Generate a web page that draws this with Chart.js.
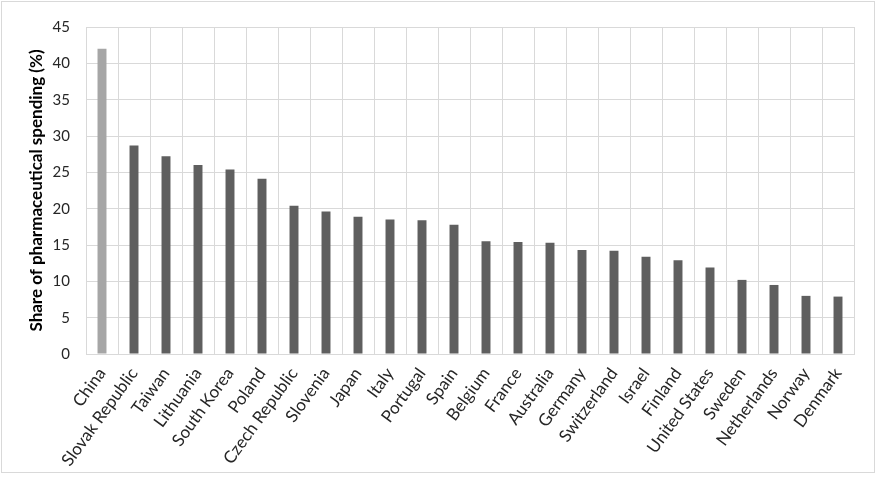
<!DOCTYPE html>
<html>
<head>
<meta charset="utf-8">
<script src="https://cdn.jsdelivr.net/npm/chart.js@4/dist/chart.umd.min.js"></script>
<style>
  html, body { margin: 0; padding: 0; background: #fff; }
  #wrap {
    position: absolute; left: 1px; top: 1px;
    width: 872px; height: 470px;
    border: 1px solid #d9d9d9;
  }
  canvas { display: block; }
</style>
</head>
<body>
<div id="wrap"><canvas id="chart" width="872" height="470"></canvas></div>
<script>
const countries = [
    "China", "Slovak Republic", "Taiwan", "Lithuania", "South Korea", "Poland",
    "Czech Republic", "Slovenia", "Japan", "Italy", "Portugal", "Spain",
    "Belgium", "France", "Australia", "Germany", "Switzerland", "Israel",
    "Finland", "United States", "Sweden", "Netherlands", "Norway", "Denmark"
];
const shares = [
    42.0, 28.7, 27.2, 26.0, 25.4, 24.1,
    20.4, 19.6, 18.9, 18.5, 18.4, 17.8,
    15.5, 15.4, 15.3, 14.3, 14.2, 13.4,
    12.9, 11.9, 10.2, 9.5, 8.0, 7.9
];
const yTitle = "Share of pharmaceutical spending (%)";

const barColors = countries.map((c, i) => i === 0 ? "#a6a6a6" : "#5f5f5f");

const ctx = document.getElementById("chart").getContext("2d");

new Chart(ctx, {
    type: "bar",
    data: {
        labels: countries,
        datasets: [{
            data: shares,
            backgroundColor: barColors,
            barPercentage: 0.28,
            categoryPercentage: 1.0
        }]
    },
    options: {
        responsive: false,
        animation: false,
        layout: { padding: { top: 23, right: 20, left: 24, bottom: 0 } },
        plugins: {
            legend: { display: false },
            tooltip: { enabled: false }
        },
        scales: {
            x: {
                grid: { color: "#d9d9d9", drawTicks: false },
                border: { color: "#d9d9d9" },
                ticks: {
                    color: "#262626",
                    font: { family: "Lato", size: 17 },
                    maxRotation: 54,
                    minRotation: 54,
                    autoSkip: false,
                    padding: 10
                },
                afterFit: function (scale) { scale.height = 118; }
            },
            y: {
                min: 0,
                max: 45,
                grid: { color: "#d9d9d9", drawTicks: false },
                border: { color: "#d9d9d9" },
                ticks: {
                    stepSize: 5,
                    color: "#262626",
                    font: { family: "Lato", size: 15 },
                    padding: 16
                },
                title: {
                    display: true,
                    text: yTitle,
                    color: "#000",
                    font: { family: "Lato", size: 17, weight: "bold" },
                    padding: { top: 0, bottom: 0 }
                },
                afterFit: function (scale) { scale.width = 60; }
            }
        }
    }
});
</script>
</body>
</html>
